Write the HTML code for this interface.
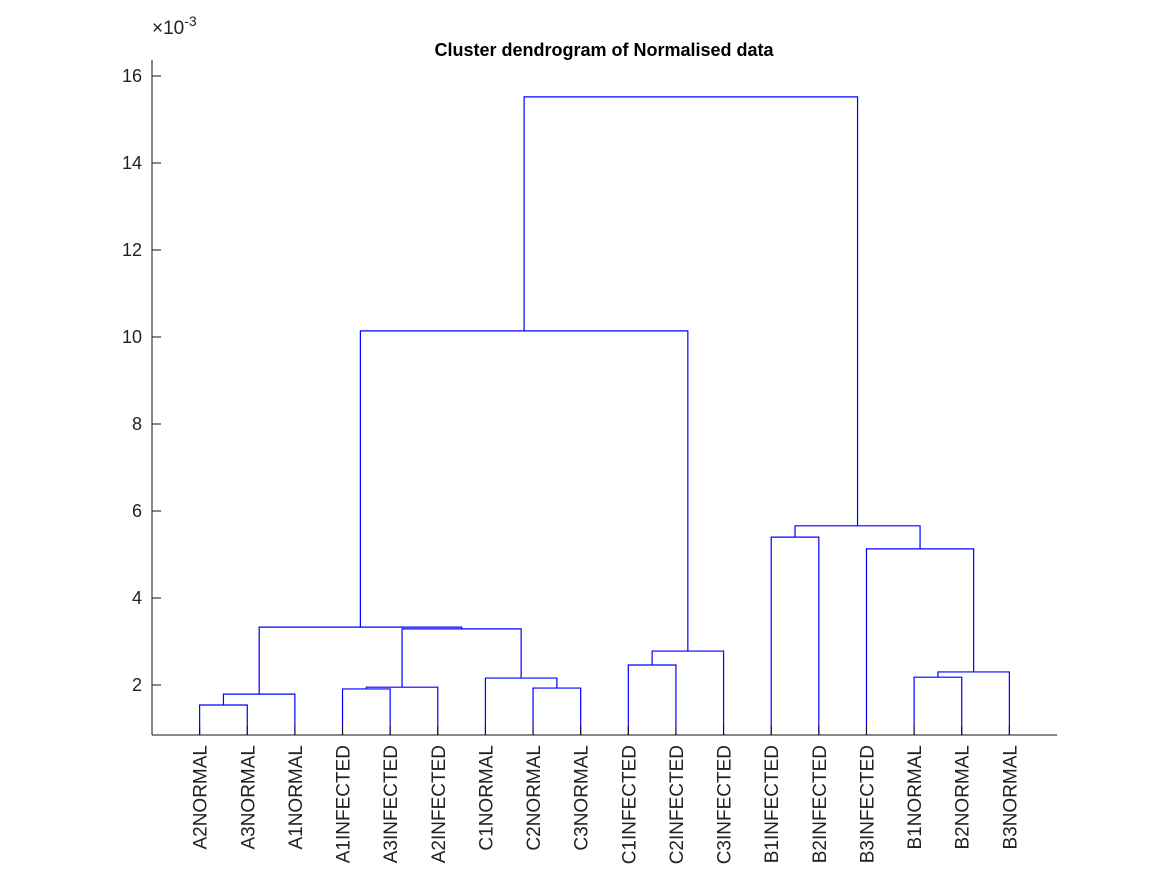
<!DOCTYPE html>
<html><head><meta charset="utf-8"><style>body{margin:0;background:#fff}svg{display:block;font-family:"Liberation Sans",Arial,sans-serif}</style></head>
<body>
<svg id="c" width="1167" height="875" viewBox="0 0 1167 875">
<rect width="1167" height="875" fill="#fff"/>
<text x="604" y="56" text-anchor="middle" font-size="18" font-weight="bold">Cluster dendrogram of Normalised data</text>
<g id="links"></g>
<g id="axes"></g>
</svg>
<script>
const leafLabels=["A2NORMAL","A3NORMAL","A1NORMAL","A1INFECTED","A3INFECTED","A2INFECTED","C1NORMAL","C2NORMAL","C3NORMAL","C1INFECTED","C2INFECTED","C3INFECTED","B1INFECTED","B2INFECTED","B3INFECTED","B1NORMAL","B2NORMAL","B3NORMAL"];
// merges: [leftNode, rightNode, height(e-3)]; nodes 0-17 leaves, merge k creates node 18+k
const mergeLeft=[0,18,3,20,7,6,21,19,9,26,25,12,15,30,14,29,28];
const mergeRight=[1,2,4,5,8,22,23,24,10,11,27,13,16,17,31,32,33];
const mergeHeight=[1.54,1.79,1.91,1.95,1.93,2.16,3.29,3.33,2.46,2.78,10.14,5.40,2.18,2.30,5.13,5.66,15.52];
const yTicks=[2,4,6,8,10,12,14,16];
const NS="http://www.w3.org/2000/svg";
const X0=152,X1=1057,Y0=735,YBASE=685;
const xs=i=>X0+(i+1)*(X1-X0)/19;
const ys=v=>YBASE-(v-2)*43.5;
const links=document.getElementById('links'),axes=document.getElementById('axes');
function mk(t,a,p){const e=document.createElementNS(NS,t);for(const k in a)e.setAttribute(k,a[k]);p.appendChild(e);return e;}
const nx=[],ny=[];
leafLabels.forEach((l,i)=>{nx[i]=xs(i);ny[i]=Y0;});
mergeLeft.forEach((a,k)=>{
  const b=mergeRight[k],h=ys(mergeHeight[k]);
  const p=mk('polyline',{points:`${nx[a]},${ny[a]} ${nx[a]},${h} ${nx[b]},${h} ${nx[b]},${ny[b]}`,fill:'none',stroke:'#0000ff','stroke-width':1.2},links);
  
  
  nx[18+k]=(nx[a]+nx[b])/2;ny[18+k]=h;
});
mk('line',{x1:X0,y1:60,x2:X0,y2:Y0,stroke:'#111'},axes);
mk('line',{x1:X0,y1:Y0,x2:X1,y2:Y0,stroke:'#111'},axes);
yTicks.forEach(v=>{
  const y=ys(v);
  mk('line',{x1:X0,y1:y,x2:X0+9,y2:y,stroke:'#111'},axes);
  const t=mk('text',{x:X0-10,y:y+6,'text-anchor':'end','font-size':18,fill:'#222'},axes);
  t.textContent=v;
  
  
});
leafLabels.forEach((l,i)=>{
  const x=xs(i);
  mk('line',{x1:x,y1:Y0,x2:x,y2:Y0-9,stroke:'#111'},axes);
  const t=mk('text',{x:0,y:0,transform:`translate(${x+7},745) rotate(-90)`,'text-anchor':'end','font-size':19,fill:'#222'},axes);
  t.textContent=l;
  
  
});
const e=mk('text',{x:152,y:34,'font-size':19,fill:'#222'},axes);
e.innerHTML='×10<tspan dy="-8" font-size="14">-3</tspan>';


</script>
</body></html>
